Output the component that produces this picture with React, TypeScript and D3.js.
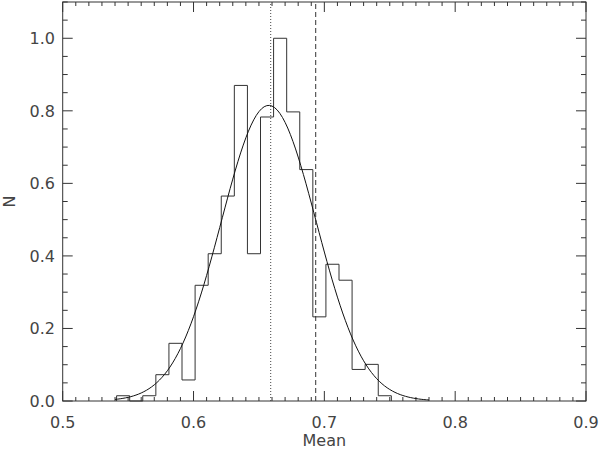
import React from "react";
import * as d3 from "d3";

// Histogram: bin start, bin width, normalized counts
const binStart = 0.5412;
const binWidth = 0.01;
const binValues = [
  0.0145, 0, 0.0145, 0.0725, 0.159, 0.058, 0.319, 0.406, 0.565, 0.87, 0.406,
  0.783, 1.0, 0.797, 0.638, 0.232, 0.377, 0.333, 0.087, 0.101, 0.0145,
];

// Gaussian fit parameters
const fitAmplitude = 0.815;
const fitMean = 0.6575;
const fitSigma = 0.0363;
const fitRange = [0.54, 0.78];

// Reference lines
const dottedX = 0.659;
const dashedX = 0.6934;

const xTicks = [0.5, 0.6, 0.7, 0.8, 0.9];
const yTicks = [0.0, 0.2, 0.4, 0.6, 0.8, 1.0];

const W = 600;
const H = 450;
const L = 62.7;
const R = 586;
const T = 2;
const B = 401;

export default function App() {
  const x = d3.scaleLinear().domain([0.5, 0.9]).range([L, R]);
  const y = d3.scaleLinear().domain([0, 1.1]).range([B, T]);

  // step outline
  const pts: [number, number][] = [];
  pts.push([binStart, 0]);
  binValues.forEach((v, i) => {
    const e0 = binStart + i * binWidth;
    pts.push([e0, v]);
    pts.push([e0 + binWidth, v]);
  });
  pts.push([binStart + binValues.length * binWidth, 0]);
  const histPath = d3
    .line<[number, number]>()
    .x((d) => x(d[0]))
    .y((d) => y(d[1]))(pts) as string;

  const gauss: [number, number][] = [];
  const steps = 120;
  for (let k = 0; k <= steps; k++) {
    const xv = fitRange[0] + ((fitRange[1] - fitRange[0]) * k) / steps;
    const yv =
      fitAmplitude *
      Math.exp(-((xv - fitMean) ** 2) / (2 * fitSigma * fitSigma));
    gauss.push([xv, yv]);
  }
  const gaussPath = d3
    .line<[number, number]>()
    .x((d) => x(d[0]))
    .y((d) => y(d[1]))(gauss) as string;

  const xMinor = d3.range(0.5, 0.9 + 1e-9, 0.01);
  const yMinor = d3.range(0, 1.1 + 1e-9, 0.05);
  const axisColor = "#333";
  const font = "'DejaVu Sans', sans-serif";
  const textColor = "#444";

  return (
    <svg
      width={W}
      height={H}
      style={{ position: "absolute", left: 0, top: 0, background: "#fff" }}
    >
      <rect x={0} y={0} width={W} height={H} fill="#fff" />
      {/* minor/major ticks x */}
      {xMinor.map((v, i) => {
        const isMajor = i % 10 === 0;
        const len = isMajor ? 10 : 4;
        const px = x(v);
        return (
          <g key={"xt" + i} stroke={axisColor} strokeWidth={1}>
            <line x1={px} x2={px} y1={B} y2={B - len} />
            <line x1={px} x2={px} y1={T} y2={T + len} />
          </g>
        );
      })}
      {yMinor.map((v, i) => {
        const isMajor = i % 4 === 0;
        const len = isMajor ? 10 : 5;
        const py = y(v);
        return (
          <g key={"yt" + i} stroke={axisColor} strokeWidth={1}>
            <line x1={L} x2={L + len} y1={py} y2={py} />
            <line x1={R} x2={R - len} y1={py} y2={py} />
          </g>
        );
      })}
      <rect
        x={L}
        y={T}
        width={R - L}
        height={B - T}
        fill="none"
        stroke={axisColor}
        strokeWidth={1}
      />
      {xTicks.map((v) => (
        <text
          key={"xl" + v}
          x={x(v)}
          y={428}
          textAnchor="middle"
          fontFamily={font}
          fontSize={16}
          fill={textColor}
        >
          {v.toFixed(1)}
        </text>
      ))}
      {yTicks.map((v) => (
        <text
          key={"yl" + v}
          x={55}
          y={y(v)}
          dy="0.36em"
          textAnchor="end"
          fontFamily={font}
          fontSize={16}
          fill={textColor}
        >
          {v.toFixed(1)}
        </text>
      ))}
      <text
        x={(L + R) / 2}
        y={446}
        textAnchor="middle"
        fontFamily={font}
        fontSize={16}
        fill={textColor}
      >
        Mean
      </text>
      <text
        transform={`translate(15,${(T + B) / 2}) rotate(-90)`}
        textAnchor="middle"
        fontFamily={font}
        fontSize={16}
        fill={textColor}
      >
        N
      </text>
      <line
        x1={x(dottedX)}
        x2={x(dottedX)}
        y1={B}
        y2={T}
        stroke="#444"
        strokeWidth={1}
        strokeDasharray="1,2"
      />
      <line
        x1={x(dashedX)}
        x2={x(dashedX)}
        y1={B}
        y2={T}
        stroke="#333"
        strokeWidth={1}
        strokeDasharray="5,3"
      />
      <path d={histPath} fill="none" stroke="#333" strokeWidth={1} />
      <path d={gaussPath} fill="none" stroke="#111" strokeWidth={1} />
    </svg>
  );
}
